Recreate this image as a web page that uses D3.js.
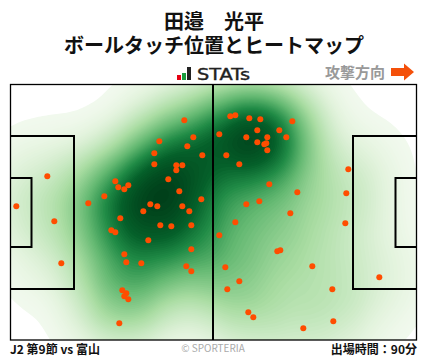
<!DOCTYPE html>
<html><head><meta charset="utf-8">
<script src="https://cdn.jsdelivr.net/npm/d3@7"></script>
<style>html,body{margin:0;padding:0;background:#fff}svg{display:block}text{font-family:"Noto Sans CJK JP","Noto Sans",sans-serif}</style>
</head><body><div id="c"></div>
<script>
const touchX=[173.8,182.8,148.8,176.8,143.8,191.8,143.8,165.8,171.8,165.8,157.8,104.8,117.8,107.8,113.8,168.8,190.8,93.8,77.8,139.8,146.8,171.8,178.8,132.8,109.8,36.8,5.8,43.8,149.8,160.8,180.8,100.8,104.8,137.8,180.8,113.8,115.8,130.8,175.8,180.8,50.8,111.8,115.8,113.8,117.8,108.8,219.8,224.8,238.8,249.8,281.8,208.8,246.8,268.8,235.8,256.8,275.8,246.8,255.8,253.8,256.8,215.8,228.8,337.8,258.8,286.8,335.8,248.8,235.8,279.8,224.8,334.8,208.8,266.8,269.8,301.8,214.8,228.8,368.8,216.8,321.8,237.8,242.8,322.8,292.8];
const touchY=[35.8,52.8,56.8,61.8,68.8,70.8,79.8,80.8,80.8,85.8,94.8,96.8,100.8,102.8,104.8,106.8,114.8,111.8,118.8,119.8,121.8,121.8,126.8,126.8,133.8,91.8,121.8,136.8,140.8,141.8,140.8,145.8,147.8,155.8,164.8,169.8,177.8,178.8,181.8,186.8,178.8,205.8,208.8,211.8,214.8,238.8,31.8,30.8,33.8,34.8,36.8,49.8,45.8,45.8,52.8,52.8,52.8,57.8,58.8,59.8,65.8,70.8,79.8,84.8,99.8,107.8,108.8,116.8,119.8,128.8,137.8,138.8,150.8,166.8,165.8,181.8,182.8,196.8,192.8,204.8,204.8,227.8,232.8,236.8,243.8];
const titleLines=["田邉　光平","ボールタッチ位置とヒートマップ"];
const matchLabel="J2 第9節 vs 富山";
const minutesLabel="出場時間：90分";
const creditLabel="© SPORTERIA";
const directionLabel="攻撃方向";
const brandLabel="STATs";
const brandBars=[5,7,13];
const brandColors=["#e60012","#1a9c3e","#222222"];
const pitchLength=406, pitchWidth=255.5;
const penaltyDepth=63.5, penaltyTop=51.5, penaltyBottom=204.5;
const goalDepth=21, goalTop=93.5, goalBottom=162.5;

const W=428,H=359;
const svg=d3.select("#c").append("svg").attr("width",W).attr("height",H);
const x=d3.scaleLinear().domain([0,pitchLength]).range([10.5,416.5]);
const y=d3.scaleLinear().domain([0,pitchWidth]).range([84.5,340]);

svg.append("text").attr("text-anchor","middle").attr("font-size",20).attr("font-weight",700).attr("fill","#111")
 .selectAll("tspan").data(titleLines).join("tspan")
 .attr("x",214).attr("y",(d,i)=>29+i*24).text(d=>d);

const by=d3.scaleLinear().domain([0,13]).range([80,67]);
svg.selectAll("rect.brand").data(brandBars).join("rect").attr("class","brand")
 .attr("x",(d,i)=>177+i*5).attr("width",4).attr("y",d=>by(d)).attr("height",d=>80-by(d))
 .attr("fill",(d,i)=>brandColors[i]);
svg.append("text").attr("x",197).attr("y",80).attr("font-size",16).attr("font-weight",400)
 .attr("stroke","#222").attr("stroke-width",0.4).attr("textLength",53).attr("lengthAdjust","spacingAndGlyphs")
 .style("font-family","'DejaVu Sans',sans-serif").attr("fill","#222").text(brandLabel);

svg.append("text").attr("x",385).attr("y",78).attr("text-anchor","end").attr("font-size",15).attr("font-weight",700)
 .attr("fill","#999").text(directionLabel);
svg.append("path").attr("fill","#f4500a")
 .attr("d",d3.line()([[391,68],[404,68],[404,63.5],[414,72],[404,80.5],[404,76],[391,76]])+"Z");

svg.append("defs").append("clipPath").attr("id","pitch").append("rect")
 .attr("x",x(0)).attr("y",y(0)).attr("width",x(pitchLength)-x(0)).attr("height",y(pitchWidth)-y(0));

const points=touchX.map((d,i)=>[d,touchY[i]]);
const density=d3.contourDensity().x(d=>x(d[0])).y(d=>y(d[1])).size([W,H]).cellSize(2).bandwidth(30)
 .thresholds(values=>{const m=d3.max(values)/4;return d3.range(0,80).map(i=>m*(0.012+Math.pow(i/80,1.5)));})(points);
const maxD=d3.max(density,d=>d.value);
const colour=d3.scaleLinear().domain([0,0.08,0.28,0.48,0.66,0.82,1]).range(["#f4faf1","#e2f3dc","#a9dca2","#63b871","#218c47","#05602a","#00401a"]);
svg.append("g").attr("clip-path","url(#pitch)").selectAll("path").data(density).join("path")
 .attr("d",d3.geoPath()).attr("fill",d=>colour(d.value/maxD));

const lines=svg.append("g").attr("fill","none").attr("stroke","#000").attr("stroke-width",2);
lines.append("line").attr("x1",x(pitchLength/2)-.5).attr("x2",x(pitchLength/2)-.5).attr("y1",y(0)).attr("y2",y(pitchWidth));
const boxes=[[0,penaltyDepth,penaltyTop,penaltyBottom],[0,goalDepth,goalTop,goalBottom],
 [pitchLength,pitchLength-penaltyDepth,penaltyTop,penaltyBottom],[pitchLength,pitchLength-goalDepth,goalTop,goalBottom]];
lines.selectAll("path").data(boxes).join("path")
 .attr("d",b=>d3.line()([[x(b[0]),y(b[2])],[x(b[1]),y(b[2])],[x(b[1]),y(b[3])],[x(b[0]),y(b[3])]]));
svg.append("rect").attr("x",x(0)).attr("y",y(0)).attr("width",x(pitchLength)-x(0)).attr("height",y(pitchWidth)-y(0))
 .attr("fill","none").attr("stroke","#000").attr("stroke-width",1.3);

svg.append("g").selectAll("circle").data(points).join("circle")
 .attr("cx",d=>x(d[0])).attr("cy",d=>y(d[1])).attr("r",3).attr("fill","#ff4d00");

svg.append("text").attr("x",10).attr("y",354).attr("font-size",12).attr("font-weight",700).attr("fill","#111").text(matchLabel);
svg.append("text").attr("x",417).attr("y",354).attr("text-anchor","end").attr("font-size",12).attr("font-weight",700).attr("fill","#111").text(minutesLabel);
svg.append("text").attr("x",213).attr("y",352).attr("text-anchor","middle").attr("font-size",10).attr("fill","#aaa").text(creditLabel);
</script></body></html>
